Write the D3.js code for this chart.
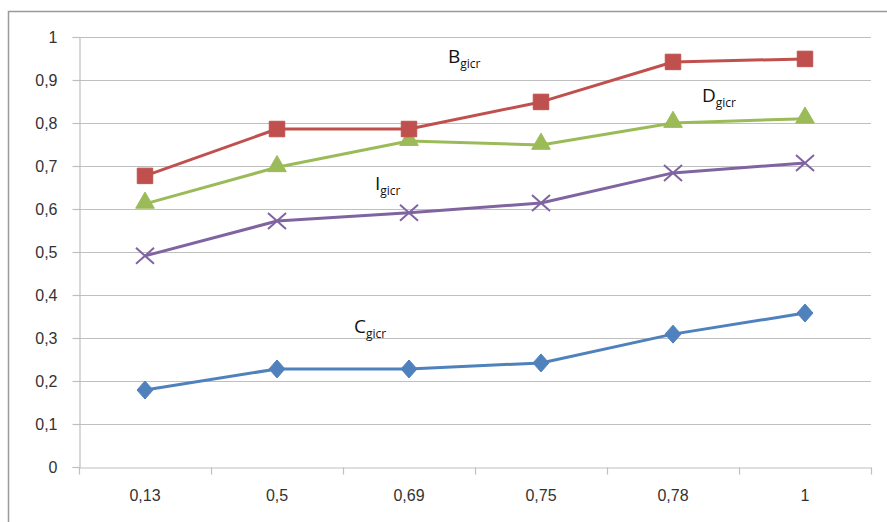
<!DOCTYPE html>
<html>
<head>
<meta charset="utf-8">
<script src="https://cdn.jsdelivr.net/npm/d3@7"></script>
<style>
  body { margin: 0; background: #fff; }
  svg { display: block; font-family: "Open Sans", "Liberation Sans", sans-serif; }
</style>
</head>
<body>
<svg id="chart"></svg>
<script>
// Размеры
const width = 887;
const height = 522;

// Категории по оси X
const categories = ['0,13', '0,5', '0,69', '0,75', '0,78', '1'];

// Ряды данных
const bValues = [0.677, 0.786, 0.786, 0.849, 0.942, 0.949];
const dValues = [0.612, 0.697, 0.758, 0.749, 0.800, 0.810];
const iValues = [0.491, 0.572, 0.591, 0.614, 0.684, 0.707];
const cValues = [0.179, 0.228, 0.228, 0.242, 0.309, 0.358];

// Подписи по оси Y
const yTicks = [0, 0.1, 0.2, 0.3, 0.4, 0.5, 0.6, 0.7, 0.8, 0.9, 1];

const svg = d3.select('#chart').attr('width', width).attr('height', height);

// Рамка
svg.append('path')
  .attr('d', `M8.5,${height} V11.5 H${width}`)
  .attr('fill', 'none').attr('stroke', '#9a9a9a').attr('stroke-width', 1.5);

const x = d3.scaleBand().domain(categories).range([79, 871]);
const y = d3.scaleLinear().domain([0, 1]).range([467, 37]);

// Сетка
svg.append('g').selectAll('line').data(yTicks.slice(1)).join('line')
  .attr('x1', 79).attr('x2', 871)
  .attr('y1', d => Math.round(y(d)) + 0.5).attr('y2', d => Math.round(y(d)) + 0.5)
  .attr('stroke', '#bfbfbf').attr('stroke-width', 1.2);

// Ось Y
const yAxis = svg.append('g').attr('transform', 'translate(79.5,0)')
  .call(d3.axisLeft(y).tickValues(yTicks).tickSize(7).tickFormat(d => d3.format('.1f')(d).replace('.', ',').replace(/^0,0$/, '0').replace(/^1,0$/, '1')));
yAxis.select('.domain').attr('stroke', '#bfbfbf').attr('stroke-width', 1.2);
yAxis.selectAll('.tick line').attr('stroke', '#bfbfbf').attr('stroke-width', 1.2);
yAxis.selectAll('text').attr('font-size', 16).attr('fill', '#333').attr('x', -22);

// Ось X
const xAxis = svg.append('g').attr('transform', 'translate(0,467.5)')
  .call(d3.axisBottom(x).tickSize(0).tickSizeOuter(0));
xAxis.select('.domain').attr('stroke', '#bfbfbf').attr('stroke-width', 1.2);
xAxis.selectAll('text').attr('font-size', 16).attr('fill', '#333').attr('dy', '0.71em').attr('y', 22);
// Деления на границах категорий
const bounds = categories.map(c => x(c)).concat([x.range()[1]]);
xAxis.selectAll('.bound').data(bounds).join('line').attr('class', 'bound')
  .attr('x1', d => Math.round(d) + 0.5).attr('x2', d => Math.round(d) + 0.5)
  .attr('y1', 0).attr('y2', 7)
  .attr('stroke', '#bfbfbf').attr('stroke-width', 1.2);

const cx = c => x(c) + x.bandwidth() / 2;
const line = d3.line().x((d, i) => cx(categories[i])).y(d => y(d));

// Маркеры
const markers = {
  diamond: 'M0,-9L8,0L0,9L-8,0Z',
  cross: 'M-9,-8L9,8M-9,8L9,-8',
  triangle: d3.symbol(d3.symbolTriangle, 150)(),
  square: d3.symbol(d3.symbolSquare, 240)()
};

const series = [
  { values: cValues, color: '#4F81BD', marker: 'diamond' },
  { values: iValues, color: '#8064A2', marker: 'cross' },
  { values: dValues, color: '#9BBB59', marker: 'triangle' },
  { values: bValues, color: '#C0504D', marker: 'square' }
];

series.forEach(s => {
  svg.append('path').datum(s.values)
    .attr('d', line).attr('fill', 'none')
    .attr('stroke', s.color).attr('stroke-width', 3).attr('stroke-linejoin', 'round');

  const g = svg.append('g').selectAll('path').data(s.values).join('path')
    .attr('transform', (d, i) => `translate(${cx(categories[i])},${y(d) - (s.marker === 'triangle' ? 1 : 0)})`)
    .attr('d', markers[s.marker]);
  if (s.marker === 'cross') {
    g.attr('stroke', s.color).attr('stroke-width', 2).attr('fill', 'none');
  } else {
    g.attr('fill', s.color).attr('stroke', s.color).attr('stroke-width', 1);
  }
});

// Подписи рядов
const labels = [
  { main: 'B', x: 448, y: 63 },
  { main: 'D', x: 702, y: 102 },
  { main: 'I', x: 375, y: 190 },
  { main: 'C', x: 354, y: 333 }
];
labels.forEach(l => {
  const t = svg.append('text').attr('x', l.x).attr('y', l.y)
    .attr('font-size', 19).attr('fill', '#111');
  t.append('tspan').text(l.main);
  t.append('tspan').text('gicr').attr('font-size', 12).attr('dy', 5);
});
</script>
</body>
</html>
